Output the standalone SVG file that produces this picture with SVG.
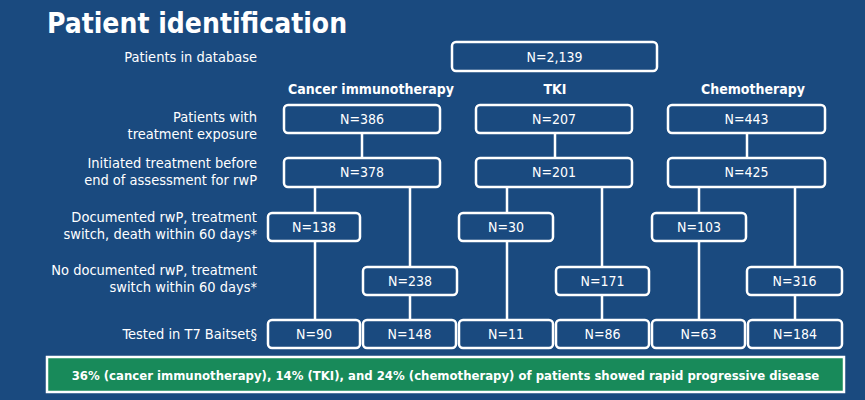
<svg xmlns="http://www.w3.org/2000/svg" width="865" height="400" viewBox="0 0 865 400">
<style>
text{font-family:"DejaVu Sans Condensed","Liberation Sans",sans-serif;fill:#fff}
.lbl{font-size:14.5px;text-anchor:end}
.hd{font-size:14px;font-weight:bold;text-anchor:middle}
.n{font-size:14px;text-anchor:middle}
.box{fill:none;stroke:#fff;stroke-width:2.5}
.ln{stroke:#fff;stroke-width:2.5;fill:none}
</style>
<rect width="865" height="400" fill="#1a4a7f"/>
<text x="47" y="33" style="font-size:28px;font-weight:bold">Patient identification</text>
<g id="labels">
<text class="lbl" x="257" y="62">Patients in database</text>
<text class="lbl" x="257" y="122">Patients with</text>
<text class="lbl" x="257" y="139">treatment exposure</text>
<text class="lbl" x="257" y="168">Initiated treatment before</text>
<text class="lbl" x="257" y="185">end of assessment for rwP</text>
<text class="lbl" x="257" y="222">Documented rwP, treatment</text>
<text class="lbl" x="257" y="239">switch, death within 60 days*</text>
<text class="lbl" x="257" y="275">No documented rwP, treatment</text>
<text class="lbl" x="257" y="292">switch within 60 days*</text>
<text class="lbl" x="257" y="339">Tested in T7 Baitset§</text>
</g>
<g id="headers">
<text class="hd" x="371" y="94">Cancer immunotherapy</text>
<text class="hd" x="555" y="94">TKI</text>
<text class="hd" x="753" y="94">Chemotherapy</text>
</g>
<g id="connectors">
<path class="ln" d="M362 133V158M555 133V158M747 133V158"/>
<path class="ln" d="M315 187V213M315 241V320M410 187V267M410 295V320"/>
<path class="ln" d="M507 187V213M507 241V320M602 187V267M602 295V320"/>
<path class="ln" d="M699 187V213M699 241V320M795 187V267M795 295V320"/>
</g>
<g id="n-total"><rect class="box" x="452" y="42" width="205" height="29" rx="4"/><text class="n" x="554.5" y="62">N=2,139</text></g>
<g id="ci-exp"><rect class="box" x="284" y="105" width="156" height="28" rx="4"/><text class="n" x="362" y="124">N=386</text></g>
<g id="tki-exp"><rect class="box" x="476" y="105" width="156" height="28" rx="4"/><text class="n" x="554" y="124">N=207</text></g>
<g id="ch-exp"><rect class="box" x="668" y="105" width="157" height="28" rx="4"/><text class="n" x="746.5" y="124">N=443</text></g>
<g id="ci-init"><rect class="box" x="284" y="158" width="156" height="29" rx="4"/><text class="n" x="362" y="177">N=378</text></g>
<g id="tki-init"><rect class="box" x="476" y="158" width="156" height="29" rx="4"/><text class="n" x="554" y="177">N=201</text></g>
<g id="ch-init"><rect class="box" x="668" y="158" width="157" height="29" rx="4"/><text class="n" x="746.5" y="177">N=425</text></g>
<g id="ci-doc"><rect class="box" x="268" y="213" width="92" height="28" rx="4"/><text class="n" x="314" y="232">N=138</text></g>
<g id="tki-doc"><rect class="box" x="459" y="213" width="94" height="28" rx="4"/><text class="n" x="506" y="232">N=30</text></g>
<g id="ch-doc"><rect class="box" x="652" y="213" width="94" height="28" rx="4"/><text class="n" x="699" y="232">N=103</text></g>
<g id="ci-nodoc"><rect class="box" x="363" y="267" width="94" height="28" rx="4"/><text class="n" x="410" y="286">N=238</text></g>
<g id="tki-nodoc"><rect class="box" x="556" y="267" width="93" height="28" rx="4"/><text class="n" x="602.5" y="286">N=171</text></g>
<g id="ch-nodoc"><rect class="box" x="747" y="267" width="95" height="28" rx="4"/><text class="n" x="794.5" y="286">N=316</text></g>
<g id="ci-t1"><rect class="box" x="268" y="320" width="92" height="28" rx="4"/><text class="n" x="314" y="339">N=90</text></g>
<g id="ci-t2"><rect class="box" x="363" y="320" width="93" height="28" rx="4"/><text class="n" x="409.5" y="339">N=148</text></g>
<g id="tki-t1"><rect class="box" x="459" y="320" width="94" height="28" rx="4"/><text class="n" x="506" y="339">N=11</text></g>
<g id="tki-t2"><rect class="box" x="556" y="320" width="93" height="28" rx="4"/><text class="n" x="602.5" y="339">N=86</text></g>
<g id="ch-t1"><rect class="box" x="652" y="320" width="93" height="28" rx="4"/><text class="n" x="698.5" y="339">N=63</text></g>
<g id="ch-t2"><rect class="box" x="748" y="320" width="94" height="28" rx="4"/><text class="n" x="795" y="339">N=184</text></g>
<g id="result"><rect x="47" y="357" width="797" height="35" fill="#188a5a" stroke="#fff" stroke-width="2.5"/><text x="445.5" y="380" style="font-size:13px;font-weight:bold;text-anchor:middle">36% (cancer immunotherapy), 14% (TKI), and 24% (chemotherapy) of patients showed rapid progressive disease</text></g>
</svg>
